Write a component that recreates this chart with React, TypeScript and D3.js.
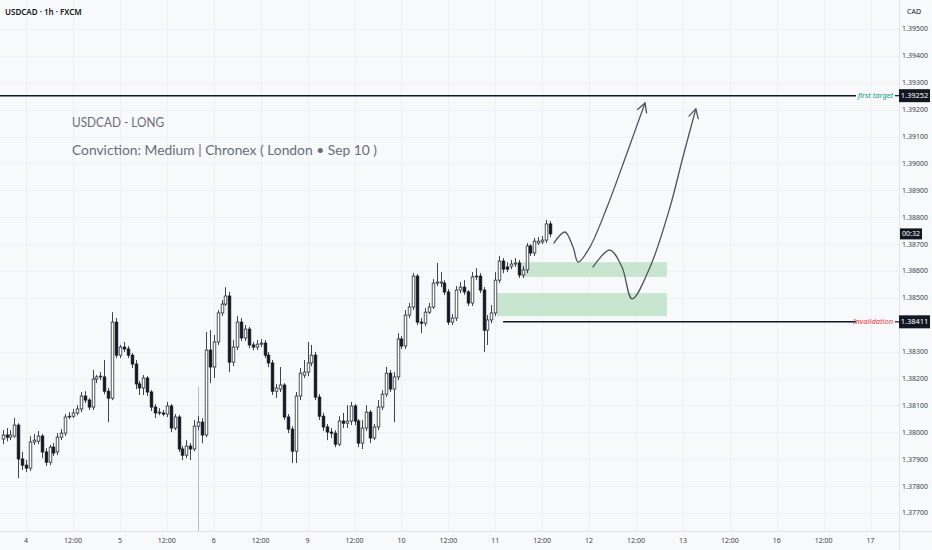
import React from 'react';
import * as d3 from 'd3';

// hourly USDCAD candles, Sep 3 18:00 -> Sep 11 14:00 (bar index = hours)
const opens = [
  1.37975, 1.37990, 1.37982, 1.37986, 1.38027, 1.37901, 1.37878, 1.37867, 1.37964, 1.37967,
  1.37986, 1.37927, 1.37889, 1.37945, 1.37927, 1.37982, 1.37997, 1.38057, 1.38060, 1.38072,
  1.38087, 1.38135, 1.38120, 1.38094, 1.38198, 1.38206, 1.38206, 1.38153, 1.38127, 1.38410,
  1.38287, 1.38317, 1.38310, 1.38287, 1.38254, 1.38180, 1.38165, 1.38202, 1.38150, 1.38094,
  1.38072, 1.38072, 1.38068, 1.38098, 1.38016, 1.38057, 1.37938, 1.37915, 1.37949, 1.37938,
  1.38023, 1.38038, 1.37990, 1.38306, 1.38243, 1.38336, 1.38444, 1.38477, 1.38507, 1.38261,
  1.38317, 1.38410, 1.38351, 1.38384, 1.38325, 1.38317, 1.38328, 1.38332, 1.38287, 1.38258,
  1.38153, 1.38161, 1.38176, 1.38057, 1.38012, 1.37930, 1.38135, 1.38213, 1.38224, 1.38258,
  1.38287, 1.38131, 1.38060, 1.38020, 1.38001, 1.37997, 1.37956, 1.38042, 1.38034, 1.38042,
  1.38098, 1.38042, 1.37960, 1.38016, 1.38075, 1.37979, 1.38020, 1.38094, 1.38142, 1.38220,
  1.38161, 1.38206, 1.38347, 1.38321, 1.38436, 1.38466, 1.38581, 1.38410, 1.38406, 1.38447,
  1.38466, 1.38555, 1.38555, 1.38555, 1.38522, 1.38410, 1.38425, 1.38529, 1.38540, 1.38522,
  1.38481, 1.38578, 1.38581, 1.38529, 1.38380, 1.38418, 1.38444, 1.38566, 1.38637, 1.38615,
  1.38618, 1.38626, 1.38630, 1.38585, 1.38604, 1.38693, 1.38667, 1.38704, 1.38708, 1.38715,
  1.38775,
];
const highs = [
  1.38008, 1.38016, 1.38008, 1.38053, 1.38034, 1.37927, 1.37897, 1.37986, 1.37994, 1.38005,
  1.37994, 1.37941, 1.37953, 1.37960, 1.37997, 1.38012, 1.38068, 1.38075, 1.38087, 1.38101,
  1.38150, 1.38153, 1.38127, 1.38232, 1.38213, 1.38224, 1.38269, 1.38165, 1.38447, 1.38425,
  1.38325, 1.38336, 1.38321, 1.38295, 1.38269, 1.38191, 1.38213, 1.38209, 1.38157, 1.38105,
  1.38090, 1.38083, 1.38113, 1.38105, 1.38068, 1.38064, 1.37949, 1.37971, 1.37960, 1.38046,
  1.38060, 1.38053, 1.38373, 1.38380, 1.38362, 1.38455, 1.38492, 1.38540, 1.38522, 1.38343,
  1.38432, 1.38425, 1.38399, 1.38392, 1.38336, 1.38343, 1.38347, 1.38343, 1.38299, 1.38269,
  1.38180, 1.38243, 1.38183, 1.38068, 1.38023, 1.38150, 1.38239, 1.38269, 1.38336, 1.38325,
  1.38299, 1.38142, 1.38072, 1.38031, 1.38016, 1.38008, 1.38060, 1.38072, 1.38101, 1.38113,
  1.38105, 1.38049, 1.38046, 1.38101, 1.38083, 1.38031, 1.38120, 1.38157, 1.38243, 1.38232,
  1.38224, 1.38369, 1.38358, 1.38455, 1.38481, 1.38592, 1.38589, 1.38425, 1.38462, 1.38481,
  1.38570, 1.38630, 1.38596, 1.38566, 1.38533, 1.38440, 1.38544, 1.38559, 1.38566, 1.38529,
  1.38596, 1.38611, 1.38592, 1.38540, 1.38436, 1.38473, 1.38596, 1.38656, 1.38648, 1.38633,
  1.38641, 1.38648, 1.38641, 1.38618, 1.38704, 1.38700, 1.38723, 1.38726, 1.38730, 1.38790,
  1.38786,
];
const lows = [
  1.37956, 1.37967, 1.37971, 1.37979, 1.37830, 1.37860, 1.37852, 1.37856, 1.37953, 1.37956,
  1.37904, 1.37875, 1.37878, 1.37912, 1.37915, 1.37971, 1.37986, 1.38049, 1.38053, 1.38064,
  1.38075, 1.38109, 1.38083, 1.38083, 1.38183, 1.38194, 1.38142, 1.38038, 1.38120, 1.38276,
  1.38276, 1.38299, 1.38276, 1.38239, 1.38161, 1.38139, 1.38139, 1.38135, 1.38079, 1.38053,
  1.38064, 1.38060, 1.38057, 1.38001, 1.38008, 1.37927, 1.37897, 1.37904, 1.37897, 1.37930,
  1.38008, 1.37960, 1.37982, 1.38183, 1.38202, 1.38325, 1.38432, 1.38470, 1.38224, 1.38246,
  1.38306, 1.38340, 1.38340, 1.38313, 1.38306, 1.38306, 1.38317, 1.38276, 1.38243, 1.38139,
  1.38127, 1.38150, 1.38046, 1.37997, 1.37886, 1.37886, 1.38120, 1.38202, 1.38209, 1.38246,
  1.38120, 1.38046, 1.38005, 1.37971, 1.37979, 1.37945, 1.37949, 1.38016, 1.38016, 1.38027,
  1.38027, 1.37945, 1.37938, 1.38005, 1.37960, 1.37971, 1.38008, 1.38083, 1.38131, 1.38150,
  1.38038, 1.38194, 1.38310, 1.38310, 1.38425, 1.38455, 1.38399, 1.38369, 1.38395, 1.38440,
  1.38459, 1.38544, 1.38540, 1.38511, 1.38399, 1.38399, 1.38414, 1.38518, 1.38511, 1.38470,
  1.38470, 1.38566, 1.38518, 1.38299, 1.38325, 1.38406, 1.38432, 1.38555, 1.38592, 1.38596,
  1.38607, 1.38615, 1.38574, 1.38574, 1.38592, 1.38656, 1.38656, 1.38697, 1.38700, 1.38704,
  1.38726,
];
const closes = [
  1.37990, 1.37982, 1.37990, 1.38027, 1.37901, 1.37878, 1.37867, 1.37964, 1.37971, 1.37986,
  1.37927, 1.37889, 1.37945, 1.37923, 1.37982, 1.37997, 1.38057, 1.38060, 1.38072, 1.38087,
  1.38135, 1.38120, 1.38094, 1.38198, 1.38206, 1.38209, 1.38153, 1.38127, 1.38410, 1.38287,
  1.38317, 1.38310, 1.38287, 1.38254, 1.38180, 1.38165, 1.38202, 1.38150, 1.38094, 1.38072,
  1.38075, 1.38068, 1.38098, 1.38016, 1.38057, 1.37938, 1.37915, 1.37949, 1.37938, 1.38023,
  1.38038, 1.37990, 1.38306, 1.38243, 1.38336, 1.38444, 1.38477, 1.38507, 1.38261, 1.38317,
  1.38410, 1.38351, 1.38384, 1.38325, 1.38317, 1.38328, 1.38332, 1.38287, 1.38258, 1.38153,
  1.38165, 1.38176, 1.38057, 1.38012, 1.37930, 1.38135, 1.38220, 1.38224, 1.38258, 1.38287,
  1.38131, 1.38060, 1.38020, 1.38001, 1.37997, 1.37956, 1.38042, 1.38034, 1.38042, 1.38098,
  1.38042, 1.37960, 1.38016, 1.38075, 1.37979, 1.38020, 1.38094, 1.38142, 1.38220, 1.38161,
  1.38206, 1.38347, 1.38321, 1.38436, 1.38466, 1.38581, 1.38410, 1.38406, 1.38447, 1.38466,
  1.38555, 1.38559, 1.38559, 1.38522, 1.38410, 1.38425, 1.38529, 1.38540, 1.38522, 1.38481,
  1.38578, 1.38581, 1.38529, 1.38380, 1.38418, 1.38444, 1.38566, 1.38637, 1.38607, 1.38607,
  1.38626, 1.38630, 1.38585, 1.38604, 1.38693, 1.38667, 1.38711, 1.38711, 1.38715, 1.38775,
  1.38738,
];

const priceTicks = [
  1.395, 1.394, 1.393, 1.392, 1.391, 1.39, 1.389, 1.388, 1.387, 1.386,
  1.385, 1.383, 1.382, 1.381, 1.38, 1.379, 1.378, 1.377,
];
const timeLabels = ['4', '12:00', '5', '12:00', '6', '12:00', '9', '12:00', '10', '12:00',
  '11', '12:00', '12', '12:00', '13', '12:00', '16', '12:00', '17'];
const timeLabelBars = [6, 18, 30, 42, 54, 66, 78, 90, 102, 114, 126, 138, 150, 162, 174, 186, 198, 210, 222];

const targetPrice = 1.39252;
const invalidationPrice = 1.38411;
const invalidationFromBar = 128;
const markerBar = 50;
const markerTopPrice = 1.3817;

// demand zones: [fromBar, toBar, top, bottom]
const zones: [number, number, number, number][] = [
  [132.8, 169.9, 1.38633, 1.38578],
  [126.4, 169.9, 1.38518, 1.38432],
];

// projected paths [bar, price]
const pathA: [number, number][] = [
  [141.0, 1.38704], [143.8, 1.38745], [145.9, 1.38689], [147.2, 1.38633],
  [150.2, 1.38689], [154.6, 1.38838], [159.7, 1.39039], [164.3, 1.39225],
];
const pathB: [number, number][] = [
  [151.0, 1.38615], [155.3, 1.38678], [158.4, 1.38615], [161.0, 1.38496],
  [165.6, 1.38615], [170.7, 1.38838], [174.0, 1.39024], [177.3, 1.39203],
];

const W = 932;
const H = 550;
const AXIS_X = 899;
const AXIS_Y = 531;
const BG = '#f8f9fb';
const INK = '#131722';
const FONT = '"Noto Sans", "Open Sans", sans-serif';

export default function App() {
  const x = d3.scaleLinear().domain([0, 222]).range([2.6, 2.6 + 222 * 3.91]);
  const y = d3.scaleLinear().domain([1.377, 1.395]).range([513, 29]);

  const line = d3
    .line<[number, number]>()
    .x((d) => x(d[0]))
    .y((d) => y(d[1]))
    .curve(d3.curveCatmullRom.alpha(0.5));

  const arrowHead = (pts: [number, number][]) => {
    const [a, b] = pts.slice(-2);
    const tx = x(b[0]);
    const ty = y(b[1]);
    const ang = Math.atan2(ty - y(a[1]), tx - x(a[0]));
    const len = 10;
    const spread = 0.5;
    const p1 = [tx - len * Math.cos(ang - spread), ty - len * Math.sin(ang - spread)];
    const p2 = [tx - len * Math.cos(ang + spread), ty - len * Math.sin(ang + spread)];
    return `M${p1[0]},${p1[1]}L${tx},${ty}L${p2[0]},${p2[1]}`;
  };

  const bw = 2.6;
  const lastClose = closes[closes.length - 1];

  return (
    <div style={{ position: 'absolute', left: 0, top: 0 }}>
      <svg width={W} height={H} style={{ display: 'block', fontFamily: FONT }}>
        <rect width={W} height={H} fill={BG} />

        {/* grid */}
        {timeLabelBars.map((b, i) => (
          <line key={'vg' + i} x1={Math.round(x(b)) + 0.5} x2={Math.round(x(b)) + 0.5} y1={0} y2={AXIS_Y}
            stroke="#eef0f4" strokeWidth={1} />
        ))}
        {priceTicks.map((p, i) => (
          <line key={'hg' + i} x1={0} x2={AXIS_X} y1={Math.round(y(p)) + 0.5} y2={Math.round(y(p)) + 0.5}
            stroke="#eef0f4" strokeWidth={1} />
        ))}

        {/* zones */}
        {zones.map((z, i) => (
          <rect key={'z' + i} x={x(z[0])} width={x(z[1]) - x(z[0])} y={y(z[2])} height={y(z[3]) - y(z[2])}
            fill="#c8e6cf" />
        ))}

        {/* marker line */}
        <line x1={Math.round(x(markerBar)) + 0.5} x2={Math.round(x(markerBar)) + 0.5} y1={y(markerTopPrice)} y2={AXIS_Y}
          stroke="#b8bcc6" strokeWidth={1} />

        {/* candles */}
        {opens.map((o, i) => {
          const c = closes[i];
          const cx = Math.round(x(i)) + 0.5;
          const up = c >= o;
          const top = y(Math.max(o, c));
          const bot = y(Math.min(o, c));
          return (
            <g key={'c' + i}>
              <line x1={cx} x2={cx} y1={y(highs[i])} y2={y(lows[i])} stroke="#2a2e39" strokeWidth={0.9} />
              <rect x={cx - bw / 2} y={top} width={bw} height={Math.max(bot - top, 0.8)}
                fill={up ? '#ffffff' : INK} stroke={up ? '#2a2e39' : INK} strokeWidth={0.8} />
            </g>
          );
        })}

        {/* target + invalidation lines */}
        <line x1={0} x2={856} y1={y(targetPrice)} y2={y(targetPrice)} stroke={INK} strokeWidth={1.6} />
        <line x1={895} x2={AXIS_X} y1={y(targetPrice)} y2={y(targetPrice)} stroke={INK} strokeWidth={1.2} />
        <text x={893} y={y(targetPrice)} dy="0.35em" textAnchor="end" fontSize={7.5} fontStyle="italic"
          fill="#089981">first target</text>

        <line x1={x(invalidationFromBar)} x2={856} y1={y(invalidationPrice)} y2={y(invalidationPrice)} stroke={INK}
          strokeWidth={1.6} />
        <line x1={895} x2={AXIS_X} y1={y(invalidationPrice)} y2={y(invalidationPrice)} stroke={INK} strokeWidth={1.2} />
        <text x={893} y={y(invalidationPrice)} dy="0.35em" textAnchor="end" fontSize={7.5} fontStyle="italic"
          fill="#f23645">Invalidation</text>

        {/* projected paths */}
        {[pathA, pathB].map((p, i) => (
          <g key={'p' + i} fill="none" stroke="#50535e" strokeWidth={1.3} strokeLinecap="round" strokeLinejoin="round">
            <path d={line(p) || ''} />
            <path d={arrowHead(p)} />
          </g>
        ))}

        {/* annotation text */}
        <text x={72} y={127} fontFamily="Lato, sans-serif" fontSize={14} fill="#6a6d78" textLength={92}
          lengthAdjust="spacingAndGlyphs">USDCAD - LONG</text>
        <text x={72} y={155} fontFamily="Lato, sans-serif" fontSize={14} fill="#6a6d78" textLength={305}
          lengthAdjust="spacingAndGlyphs">Conviction: Medium | Chronex ( London • Sep 10 )</text>

        {/* header */}
        <text x={5} y={15} fontSize={8} fontWeight={600} fill={INK}>USDCAD · 1h · FXCM</text>

        {/* price axis */}
        <rect x={AXIS_X} y={0} width={W - AXIS_X} height={H} fill={BG} />
        <line x1={AXIS_X + 0.5} x2={AXIS_X + 0.5} y1={0} y2={H} stroke="#e0e3eb" />
        <text x={914} y={12} dy="0.35em" textAnchor="middle" fontSize={7} fill={INK}>CAD</text>
        {priceTicks.map((p, i) => (
          <text key={'pt' + i} x={915} y={y(p)} dy="0.35em" textAnchor="middle" fontSize={7} fill="#3b3f4a">
            {p.toFixed(5)}
          </text>
        ))}
        <rect x={AXIS_X} y={y(targetPrice) - 6.5} width={31} height={13} fill={INK} />
        <text x={914.5} y={y(targetPrice)} dy="0.35em" textAnchor="middle" fontSize={7.5} fill="#fff">
          {targetPrice.toFixed(5)}
        </text>
        <rect x={AXIS_X} y={y(invalidationPrice) - 6.5} width={31} height={13} fill={INK} />
        <text x={914.5} y={y(invalidationPrice)} dy="0.35em" textAnchor="middle" fontSize={7.5} fill="#fff">
          {invalidationPrice.toFixed(5)}
        </text>
        <rect x={AXIS_X + 1} y={y(lastClose) - 5.5} width={22} height={11} fill={INK} />
        <text x={AXIS_X + 12} y={y(lastClose)} dy="0.35em" textAnchor="middle" fontSize={7} fill="#fff">00:32</text>

        {/* time axis */}
        <rect x={0} y={AXIS_Y} width={AXIS_X} height={H - AXIS_Y} fill={BG} />
        <line x1={0} x2={W} y1={AXIS_Y + 0.5} y2={AXIS_Y + 0.5} stroke="#e0e3eb" />
        {timeLabels.map((t, i) => (
          <text key={'tl' + i} x={x(timeLabelBars[i])} y={541} dy="0.35em" textAnchor="middle" fontSize={7}
            fill="#3b3f4a">{t}</text>
        ))}
      </svg>
    </div>
  );
}
